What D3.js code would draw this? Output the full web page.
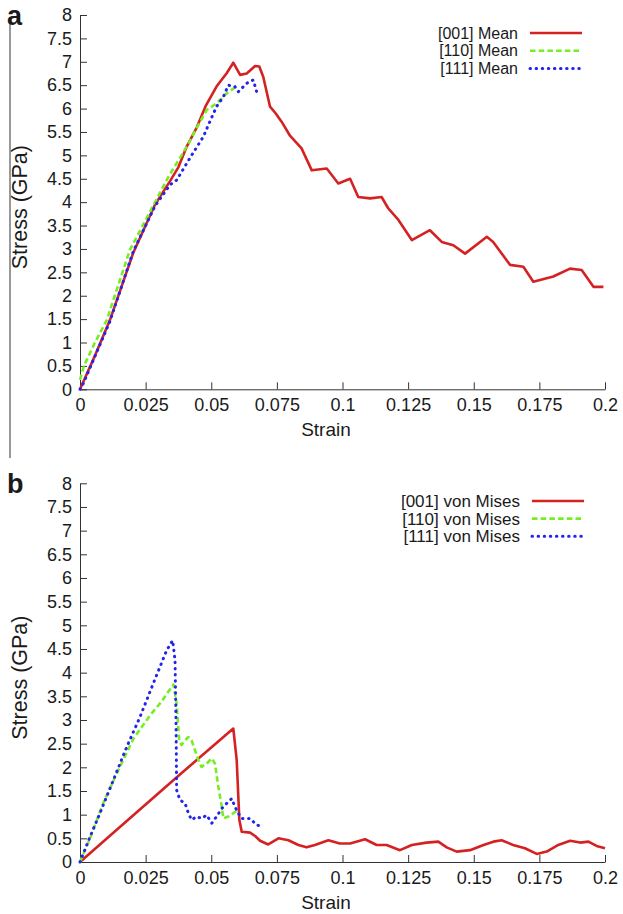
<!DOCTYPE html>
<html>
<head>
<meta charset="utf-8">
<script src="https://cdn.jsdelivr.net/npm/d3@7"></script>
<style>
  body { margin: 0; background: #fff; }
  text { font-family: "Liberation Sans", Arial, sans-serif; fill: #1a1a1a; }
</style>
</head>
<body>
<svg id="chart"></svg>
<script>
// Tick labels
const strainTicks = [0, 0.025, 0.05, 0.075, 0.1, 0.125, 0.15, 0.175, 0.2];
const stressTicks = [0, 0.5, 1, 1.5, 2, 2.5, 3, 3.5, 4, 4.5, 5, 5.5, 6, 6.5, 7, 7.5, 8];

// Panel a: mean stress
const meanStrain001 = [0, 0.0057, 0.0114, 0.0203, 0.0286, 0.0343, 0.0375, 0.0406, 0.0445, 0.048, 0.052, 0.0558, 0.0584, 0.061, 0.0635, 0.0667, 0.0683, 0.0698, 0.0724, 0.0745, 0.0768, 0.08, 0.0844, 0.0883, 0.094, 0.0984, 0.1029, 0.106, 0.1105, 0.1149, 0.1174, 0.1213, 0.1264, 0.1333, 0.1378, 0.1422, 0.1467, 0.155, 0.1574, 0.1638, 0.1689, 0.1727, 0.1803, 0.1867, 0.1911, 0.1956, 0.1994];
const meanStress001 = [0, 0.72, 1.48, 2.92, 3.95, 4.45, 4.75, 5.18, 5.6, 6.07, 6.47, 6.75, 6.98, 6.72, 6.75, 6.91, 6.9, 6.68, 6.04, 5.9, 5.72, 5.42, 5.15, 4.68, 4.72, 4.4, 4.5, 4.11, 4.08, 4.11, 3.87, 3.62, 3.19, 3.4, 3.15, 3.08, 2.9, 3.26, 3.15, 2.66, 2.62, 2.3, 2.41, 2.58, 2.55, 2.19, 2.19];

const meanStrain110 = [0, 0.0015, 0.0057, 0.0102, 0.019, 0.033, 0.0343, 0.0406, 0.0444, 0.0483, 0.052, 0.0558, 0.059];
const meanStress110 = [0.2, 0.5, 1.0, 1.48, 2.98, 4.47, 4.6, 5.18, 5.58, 5.97, 6.11, 6.32, 6.45];

const meanStrain111 = [0, 0.0013, 0.0114, 0.0203, 0.0286, 0.0343, 0.0368, 0.0425, 0.047, 0.0489, 0.052, 0.0546, 0.0565, 0.059, 0.0603, 0.0635, 0.066, 0.0673, 0.0692];
const meanStress111 = [0, 0.13, 1.45, 2.95, 3.92, 4.37, 4.47, 5.0, 5.4, 5.65, 6.04, 6.25, 6.5, 6.47, 6.36, 6.54, 6.61, 6.36, 6.35];

// Panel b: von Mises stress
const misesStrain001 = [0, 0.0152, 0.0362, 0.0584, 0.0597, 0.0607, 0.0616, 0.0648, 0.0667, 0.0686, 0.0717, 0.0756, 0.0794, 0.0832, 0.0863, 0.0895, 0.0946, 0.099, 0.1029, 0.1086, 0.113, 0.1168, 0.1219, 0.1264, 0.132, 0.1365, 0.1397, 0.1435, 0.1486, 0.1537, 0.1575, 0.1606, 0.165, 0.1695, 0.174, 0.1778, 0.1822, 0.1867, 0.1905, 0.1937, 0.1968, 0.2];
const misesStress001 = [0, 0.74, 1.76, 2.82, 2.15, 0.89, 0.64, 0.62, 0.55, 0.45, 0.37, 0.5, 0.46, 0.36, 0.31, 0.36, 0.46, 0.39, 0.39, 0.48, 0.36, 0.36, 0.25, 0.36, 0.41, 0.43, 0.31, 0.22, 0.25, 0.36, 0.43, 0.46, 0.36, 0.29, 0.17, 0.22, 0.36, 0.45, 0.41, 0.43, 0.34, 0.29];

const misesStrain110 = [0, 0.0038, 0.0089, 0.014, 0.0203, 0.0267, 0.0305, 0.0356, 0.0368, 0.0378, 0.0387, 0.04, 0.0413, 0.0425, 0.0438, 0.0451, 0.0463, 0.0483, 0.0502, 0.0514, 0.0527, 0.054, 0.0546, 0.0565, 0.0597];
const misesStress110 = [0, 0.5, 1.25, 1.87, 2.6, 3.1, 3.35, 3.75, 3.35, 2.57, 2.47, 2.57, 2.64, 2.57, 2.36, 2.15, 2.01, 2.08, 2.19, 2.08, 1.59, 1.17, 0.92, 0.96, 1.08];

const misesStrain111 = [0, 0.0038, 0.0076, 0.0127, 0.0178, 0.0229, 0.0279, 0.033, 0.0353, 0.0362, 0.0366, 0.0368, 0.0381, 0.04, 0.0413, 0.0425, 0.0444, 0.0463, 0.0483, 0.0502, 0.052, 0.054, 0.0559, 0.0578, 0.059, 0.0603, 0.0616, 0.0648, 0.0673, 0.0698];
const misesStress111 = [0, 0.53, 1.03, 1.73, 2.43, 3.07, 3.77, 4.47, 4.68, 4.26, 2.85, 1.52, 1.31, 1.24, 1.03, 0.89, 0.96, 0.92, 0.99, 0.82, 0.96, 1.13, 1.24, 1.34, 1.17, 1.03, 0.92, 0.92, 0.78, 0.75];

const styles = {
    "001": { color: "#d42222", dash: null, width: 2.6, cap: "butt" },
    "110": { color: "#77ee22", dash: "5.5,3.2", width: 2.6, cap: "butt" },
    "111": { color: "#2424ee", dash: "0.5,5.6", width: 3, cap: "round" }
};

const svg = d3.select("#chart")
    .attr("width", 623)
    .attr("height", 914);

svg.append("rect").attr("width", 623).attr("height", 914).attr("fill", "#fff");

// thin line at the left of panel a
svg.append("line")
    .attr("x1", 10).attr("x2", 10)
    .attr("y1", 22).attr("y2", 458)
    .attr("stroke", "#777").attr("stroke-width", 1.5);

const x = d3.scaleLinear().domain([0, 0.2]).range([80, 605]);

function drawPanel(opts) {
    const y = d3.scaleLinear().domain([0, 8]).range([opts.bottom, opts.top]);
    const g = svg.append("g");

    const yAxis = g.append("g")
        .attr("transform", "translate(80,0)")
        .call(d3.axisLeft(y).tickValues(stressTicks).tickFormat(d => String(d))
            .tickSizeInner(-7).tickSizeOuter(0).tickPadding(8));
    const xAxis = g.append("g")
        .attr("transform", `translate(0,${opts.bottom})`)
        .call(d3.axisBottom(x).tickValues(strainTicks).tickFormat(d => String(d))
            .tickSizeInner(-7).tickSizeOuter(0).tickPadding(9));

    [yAxis, xAxis].forEach(a => {
        a.select(".domain").attr("stroke", "#333");
        a.selectAll(".tick line").attr("stroke", "#333");
        a.selectAll("text")
            .attr("font-family", "Liberation Sans, Arial, sans-serif")
            .attr("font-size", 18)
            .attr("fill", "#1a1a1a");
    });

    const line = d3.line()
        .x(d => x(d[0]))
        .y(d => y(d[1]));

    opts.series.forEach(s => {
        const st = styles[s.key];
        const pts = s.strain.map((v, i) => [v, s.stress[i]]);
        g.append("path")
            .datum(pts)
            .attr("d", line)
            .attr("fill", "none")
            .attr("stroke", st.color)
            .attr("stroke-width", st.width)
            .attr("stroke-linecap", st.cap)
            .attr("stroke-linejoin", "round")
            .attr("stroke-dasharray", st.dash);
    });

    // legend
    opts.series.forEach((s, i) => {
        const st = styles[s.key];
        const cy = opts.legendY + i * opts.legendGap;
        g.append("text")
            .attr("x", opts.legendTextX)
            .attr("y", cy)
            .attr("dy", "0.35em")
            .attr("text-anchor", "end")
            .attr("font-size", opts.legendSize)
            .text(s.label);
        g.append("line")
            .attr("x1", opts.legendTextX + 12)
            .attr("x2", opts.legendTextX + 64)
            .attr("y1", cy).attr("y2", cy)
            .attr("stroke", st.color)
            .attr("stroke-width", st.width)
            .attr("stroke-linecap", st.cap)
            .attr("stroke-dasharray", st.dash);
    });

    // axis titles
    g.append("text")
        .attr("transform", `translate(27,${(opts.top + opts.bottom) / 2 + 5}) rotate(-90)`)
        .attr("text-anchor", "middle")
        .attr("font-size", 21.5)
        .text("Stress (GPa)");
    g.append("text")
        .attr("x", 326)
        .attr("y", opts.bottom + 47)
        .attr("text-anchor", "middle")
        .attr("font-size", 19)
        .text("Strain");

    // panel letter
    g.append("text")
        .attr("x", 7)
        .attr("y", opts.letterY)
        .attr("font-size", 27)
        .attr("font-weight", "bold")
        .text(opts.letter);
}

drawPanel({
    top: 15, bottom: 389.3, letter: "a", letterY: 25,
    legendY: 33, legendGap: 17.7, legendTextX: 518, legendSize: 16,
    series: [
        { key: "001", label: "[001] Mean", strain: meanStrain001, stress: meanStress001 },
        { key: "110", label: "[110] Mean", strain: meanStrain110, stress: meanStress110 },
        { key: "111", label: "[111] Mean", strain: meanStrain111, stress: meanStress111 }
    ]
});

drawPanel({
    top: 483.3, bottom: 862, letter: "b", letterY: 493,
    legendY: 501, legendGap: 17.6, legendTextX: 520, legendSize: 17,
    series: [
        { key: "001", label: "[001] von Mises", strain: misesStrain001, stress: misesStress001 },
        { key: "110", label: "[110] von Mises", strain: misesStrain110, stress: misesStress110 },
        { key: "111", label: "[111] von Mises", strain: misesStrain111, stress: misesStress111 }
    ]
});
</script>
</body>
</html>
